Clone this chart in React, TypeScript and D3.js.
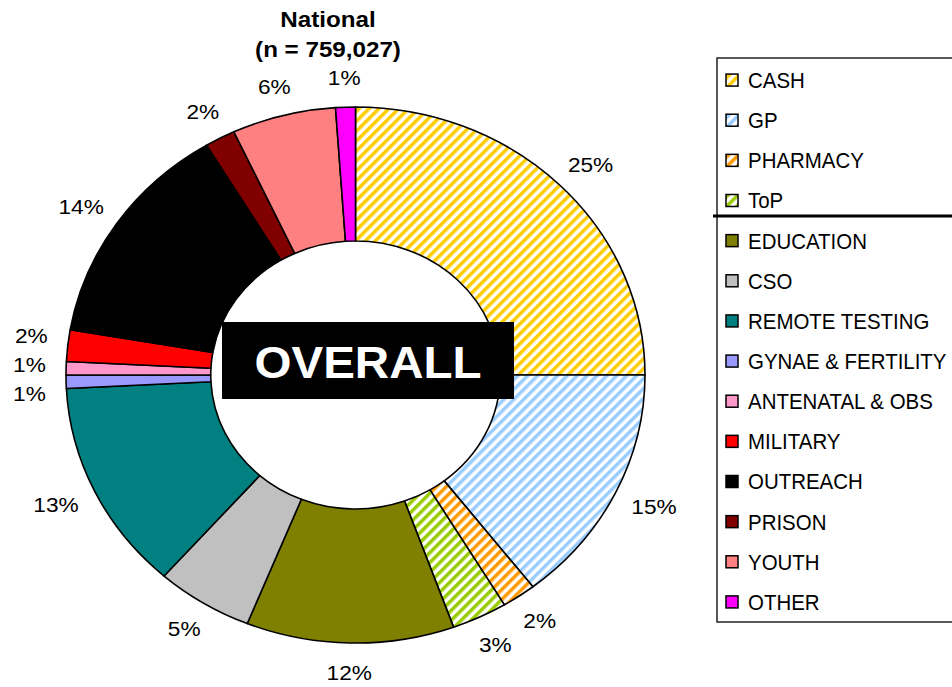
// Donut chart: national share of tests by setting, with a side legend
import React from 'react'
import * as d3 from 'd3'

const categories = [
  'CASH', 'GP', 'PHARMACY', 'ToP', 'EDUCATION', 'CSO', 'REMOTE TESTING',
  'GYNAE & FERTILITY', 'ANTENATAL & OBS', 'MILITARY', 'OUTREACH', 'PRISON', 'YOUTH', 'OTHER',
]
// share of total (%)
const shares = [25.0, 14.5, 1.9, 3.1, 11.6, 5.4, 12.7, 0.8, 0.8, 1.9, 13.7, 1.7, 5.8, 1.1]
const pctLabels = ['25%', '15%', '2%', '3%', '12%', '5%', '13%', '1%', '1%', '2%', '14%', '2%', '6%', '1%']
const colors = [
  '#FFCC00', '#99CCFF', '#FF9900', '#99CC00', '#808000', '#C0C0C0', '#008080',
  '#9999FF', '#FF99CC', '#FF0000', '#000000', '#800000', '#FF8080', '#FF00FF',
]
// the first four settings are drawn with a diagonal stripe
const striped = [true, true, true, true, false, false, false, false, false, false, false, false, false, false]
const titleLines = ['National', '(n = 759,027)']
const centerLabel = 'OVERALL'

const W = 952
const H = 687
const cx = 355.5
const cy = 375
const rx = 289.5
const ry = 268
const innerRatio = 0.5
const FONT = 'Arial, "Liberation Sans", Helvetica, sans-serif'
const labelSize = 21
const stretch = 1.08 // the picture is a bit wider than tall

function pt(t: number, k: number) {
  return [cx + rx * k * Math.sin(t), cy - ry * k * Math.cos(t)]
}

function slicePath(a0: number, a1: number) {
  const large = a1 - a0 > Math.PI ? 1 : 0
  const [x0, y0] = pt(a0, 1)
  const [x1, y1] = pt(a1, 1)
  const [x2, y2] = pt(a1, innerRatio)
  const [x3, y3] = pt(a0, innerRatio)
  return `M${x0},${y0}A${rx},${ry} 0 ${large} 1 ${x1},${y1}` +
    `L${x2},${y2}A${rx * innerRatio},${ry * innerRatio} 0 ${large} 0 ${x3},${y3}Z`
}

export default function App() {
  const arcs = d3.pie<number>().sort(null).value(d => d)(shares)

  // label boxes sit just outside the ring, pushed out along the mid angle
  const labels = arcs.map((a, i) => {
    const t = (a.startAngle + a.endAngle) / 2
    const txt = pctLabels[i]
    const w = ((txt.length - 1) * 0.556 + 0.889) * labelSize * stretch
    const h = 22
    const [ax, ay] = pt(t, 1.07)
    return { x: ax + Math.sin(t) * w / 2, y: ay - Math.cos(t) * h / 2, w, txt }
  })
  // spread labels that collide
  const minGap = 29
  for (let it = 0; it < 60; it++) {
    for (let i = 0; i < labels.length; i++) {
      for (let j = i + 1; j < labels.length; j++) {
        const a = labels[i], b = labels[j]
        if (Math.abs(a.x - b.x) >= (a.w + b.w) / 2) continue
        const dy = b.y - a.y
        if (Math.abs(dy) >= minGap) continue
        const push = (minGap - Math.abs(dy)) / 2 * (dy >= 0 ? 1 : -1)
        a.y -= push
        b.y += push
      }
    }
  }

  const legendY = d3.scaleBand<string>().domain(categories).range([60, 622])
  const legendX = 717
  const box = 12

  return (
    <svg width={W} height={H} style={{ position: 'absolute', left: 0, top: 0, background: '#fff' }}>
      <defs>
        {colors.map((c, i) => striped[i] && (
          <pattern key={i} id={`stripe-${i}`} patternUnits="userSpaceOnUse" width={7} height={7}
            patternTransform="rotate(45)">
            <rect width={7} height={7} fill="#fff" />
            <rect width={3.5} height={7} fill={c} />
          </pattern>
        ))}
      </defs>

      {/* title */}
      {titleLines.map((s, i) => (
        <text key={s} transform={`translate(328,${27 + i * 30}) scale(1.1,1)`} textAnchor="middle"
          fontFamily={FONT} fontWeight="bold" fontSize={22} fill="#000">{s}</text>
      ))}

      {/* ring */}
      <g stroke="#000" strokeWidth={1.6} strokeLinejoin="round">
        {arcs.map((a, i) => (
          <path key={categories[i]} d={slicePath(a.startAngle, a.endAngle)}
            fill={striped[i] ? `url(#stripe-${i})` : colors[i]} />
        ))}
      </g>

      {/* value labels */}
      {labels.map((l, i) => (
        <text key={i} transform={`translate(${l.x},${l.y}) scale(${stretch},1)`} dy="0.36em"
          textAnchor="middle" fontFamily={FONT} fontSize={labelSize} fill="#000">{l.txt}</text>
      ))}

      {/* centre banner */}
      <rect x={222} y={322} width={292} height={77} fill="#000" />
      <text transform={`translate(368,378) scale(${stretch},1)`} textAnchor="middle"
        fontFamily={FONT} fontWeight="bold" fontSize={44} fill="#fff">{centerLabel}</text>

      {/* legend */}
      <rect x={legendX} y={58} width={260} height={564} fill="#fff" stroke="#222" strokeWidth={1.5} />
      <line x1={713} x2={W} y1={216} y2={216} stroke="#000" strokeWidth={3} />
      {categories.map((c, i) => {
        const y = legendY(c)! + legendY.bandwidth() / 2
        return (
          <g key={c}>
            <rect x={legendX + 9} y={y - box / 2} width={box} height={box}
              fill={striped[i] ? `url(#stripe-${i})` : colors[i]} stroke="#000" strokeWidth={1.5} />
            <text transform={`translate(${legendX + 31},${y}) scale(0.93,1)`} dy="0.36em"
              fontFamily={FONT} fontSize={22} fill="#000">{c}</text>
          </g>
        )
      })}
    </svg>
  )
}
